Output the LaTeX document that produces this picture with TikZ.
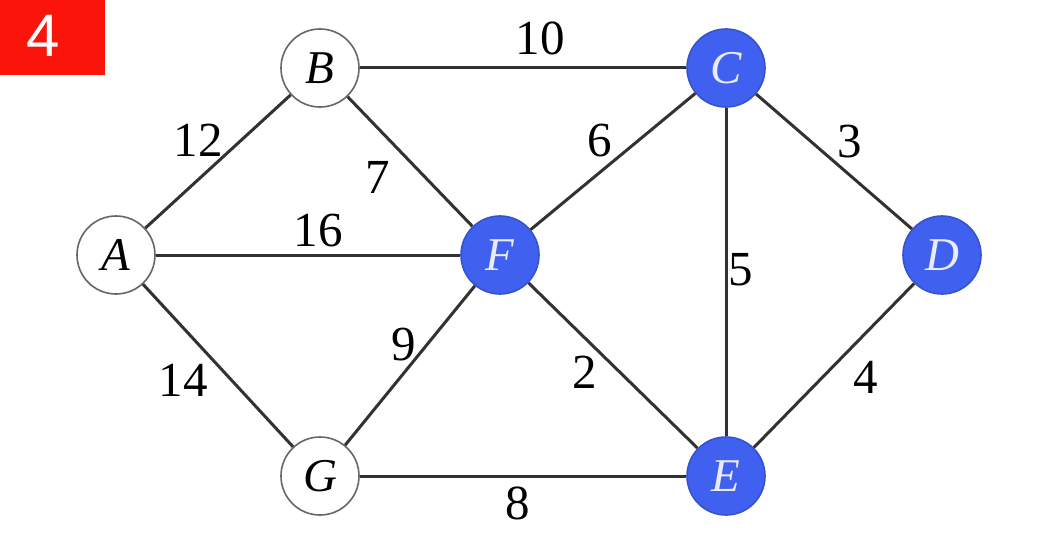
\documentclass[tikz,border=0pt]{standalone}
\usepackage{fontspec}
\setmainfont{Liberation Serif}
\newfontfamily\labsans{Liberation Sans}
\definecolor{nodeblue}{RGB}{64,96,240}
\definecolor{redbox}{RGB}{250,20,10}
\definecolor{edgecol}{RGB}{50,50,50}
\begin{document}
\begin{tikzpicture}[x=1pt,y=-1pt,
  vtx/.style={circle,draw=black!60,line width=1.6pt,fill=white,minimum size=78pt,inner sep=0pt,font=\fontsize{47}{47}\selectfont\itshape},
  bvtx/.style={vtx,draw=nodeblue!85!black,fill=nodeblue,text=white!92!blue},
  edge/.style={draw=edgecol,line width=3pt},
  wlab/.style={font=\fontsize{49}{49}\selectfont,inner sep=0pt}]
\useasboundingbox (0,0) rectangle (1049,535);
\fill[white] (0,0) rectangle (1049,535);
\node[fill=redbox,minimum width=105pt,minimum height=75pt,inner sep=0pt,anchor=north west,text=white,font=\labsans\fontsize{60}{60}\selectfont] (tag) at (0,0) {};
\node[text=white,font=\labsans\fontsize{60}{60}\selectfont,inner sep=0pt] (tagnum) at (43,36) {4};
\coordinate (pA) at (116,255);
\coordinate (pB) at (320,68);
\coordinate (pC) at (726,68);
\coordinate (pD) at (942,255);
\coordinate (pE) at (726,476);
\coordinate (pF) at (500,255);
\coordinate (pG) at (320,476);
\node[vtx] (A) at (pA) {A};
\node[vtx] (B) at (pB) {B};
\node[bvtx] (C) at (pC) {C};
\node[bvtx] (D) at (pD) {D};
\node[bvtx] (E) at (pE) {E};
\node[bvtx] (F) at (pF) {F};
\node[vtx] (G) at (pG) {G};
\draw[edge] (A) -- (B);
\draw[edge] (A) -- (F);
\draw[edge] (A) -- (G);
\draw[edge] (B) -- (C);
\draw[edge] (B) -- (F);
\draw[edge] (C) -- (F);
\draw[edge] (C) -- (D);
\draw[edge] (C) -- (E);
\draw[edge] (F) -- (E);
\draw[edge] (G) -- (F);
\draw[edge] (G) -- (E);
\draw[edge] (D) -- (E);
\node[wlab] (l10) at (540,38) {10};
\node[wlab] (l12) at (198,140) {12};
\node[wlab] (l7) at (378,177) {7};
\node[wlab] (l16) at (318,231) {16};
\node[wlab] (l6) at (600,141) {6};
\node[wlab] (l3) at (850,142) {3};
\node[wlab] (l5) at (741,270) {5};
\node[wlab] (l14) at (183,380) {14};
\node[wlab] (l9) at (404,345) {9};
\node[wlab] (l2) at (585,372) {2};
\node[wlab] (l4) at (866,377) {4};
\node[wlab] (l8) at (518,503) {8};
\end{tikzpicture}
\end{document}
